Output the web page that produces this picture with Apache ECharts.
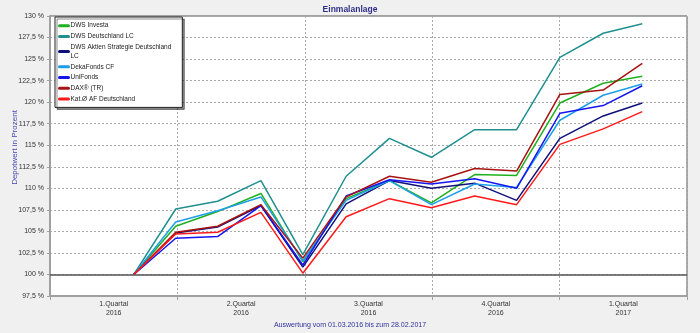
<!DOCTYPE html>
<html>
<head>
<meta charset="utf-8">
<script src="https://cdn.jsdelivr.net/npm/echarts@6/dist/echarts.min.js"></script>
<style>
html,body{margin:0;padding:0;background:#f0f0f0;}
#chart{width:700px;height:333px;}
</style>
</head>
<body>
<div id="chart"></div>
<script>
const quarterLabels = ['1.Quartal\n2016', '2.Quartal\n2016', '3.Quartal\n2016', '4.Quartal\n2016', '1.Quartal\n2017'];
const dates = ['2016-03-01','2016-03-31','2016-04-30','2016-05-31','2016-06-30','2016-07-31','2016-08-31','2016-09-30','2016-10-31','2016-11-30','2016-12-31','2017-01-31','2017-02-28'];
const seriesNames = ['DWS Investa','DWS Deutschland LC','DWS Aktien Strategie Deutschland LC','DekaFonds CF','UniFonds','DAX® (TR)','Kat.Ø AF Deutschland'];
const dwsInvesta      = [100, 105.6, 107.3, 109.4, 101.5, 108.8, 110.9, 108.3, 111.6, 111.5, 119.9, 122.2, 123.0];
const dwsDeutschland  = [100, 107.6, 108.5, 110.9, 102.3, 111.4, 115.8, 113.6, 116.8, 116.8, 125.2, 128.0, 129.1];
const dwsAktienStrat  = [100, 104.8, 105.5, 108.0, 100.85, 108.2, 110.9, 110.0, 110.6, 108.6, 115.8, 118.4, 119.9];
const dekaFonds       = [100, 106.1, 107.4, 109.0, 101.6, 108.6, 110.9, 108.1, 110.5, 110.1, 117.9, 120.8, 122.1];
const uniFonds        = [100, 104.2, 104.4, 108.0, 101.1, 109.1, 111.0, 110.5, 111.1, 110.0, 118.7, 119.6, 121.9];
const daxTR           = [100, 104.9, 105.6, 108.1, 101.9, 109.0, 111.4, 110.7, 112.3, 112.0, 120.9, 121.4, 124.5];
const katAF           = [100, 104.7, 104.9, 107.2, 100.15, 106.7, 108.8, 107.75, 109.1, 108.1, 115.1, 116.9, 118.9];
const seriesValues = [dwsInvesta, dwsDeutschland, dwsAktienStrat, dekaFonds, uniFonds, daxTR, katAF];
const seriesColors = ['#1fb01f', '#1f8f8f', '#10107a', '#1e9ee8', '#1515f0', '#a81212', '#ff1a1a'];
const baseLine = 100;
const yMin = 97.5, yMax = 130, yStep = 2.5;

const FONT = 'Liberation Sans, Arial, sans-serif';
const chart = echarts.init(document.getElementById('chart'), null, {renderer: 'canvas'});

const series = seriesNames.map((name, i) => ({
  name: name,
  type: 'line',
  xAxisIndex: 1,
  symbol: 'none',
  showSymbol: false,
  z: 3,
  lineStyle: {color: seriesColors[i], width: 1.5},
  itemStyle: {color: seriesColors[i]},
  data: dates.map((d, k) => [d, seriesValues[i][k]])
}));
series[0].markLine = {
  silent: true,
  symbol: 'none',
  label: {show: false},
  lineStyle: {color: '#555', type: 'solid', width: 1.5},
  data: [{yAxis: baseLine}]
};

const legendData = seriesNames.map(n => {
  if (n.length > 30) {
    return {name: n, textStyle: {lineHeight: 9.5, padding: [4.75, 0, -4.75, -3]}};
  }
  return {name: n};
});

chart.setOption({
  animation: false,
  backgroundColor: '#f0f0f0',
  title: {
    text: 'Einmalanlage',
    left: 'center',
    top: 0,
    textStyle: {fontFamily: FONT, fontSize: 8.5, fontWeight: 'bold', color: '#2e2e8a'}
  },
  graphic: [{
    type: 'text',
    left: 'center',
    top: 322,
    style: {text: 'Auswertung vom 01.03.2016 bis zum 28.02.2017', fontFamily: FONT, fontSize: 7, fill: '#3030a0'}
  }],
  legend: {
    orient: 'vertical',
    left: 55,
    top: 17,
    itemWidth: 9,
    itemHeight: 10,
    itemGap: 0.7,
    padding: [3.7, 11, 3.5, 3],
    backgroundColor: '#ffffff',
    borderColor: '#222',
    borderWidth: 1,
    shadowColor: 'rgba(0,0,0,0.45)',
    shadowOffsetX: 2,
    shadowOffsetY: 2,
    shadowBlur: 0,
    selectedMode: false,
    itemStyle: {opacity: 0},
    lineStyle: {width: 3, cap: 'round', opacity: 1},
    textStyle: {fontFamily: FONT, fontSize: 6.5, color: '#222', lineHeight: 10, padding: [0, 0, 0, -3]},
    formatter: function (name) { return name.length > 30 ? name.replace(/ LC$/, '\nLC') : name; },
    data: legendData
  },
  grid: {
    left: 50, right: 13, top: 16, bottom: 37,
    outerBoundsMode: 'none',
    containLabel: false,
    show: true, backgroundColor: '#ffffff', borderColor: '#555', borderWidth: 1
  },
  xAxis: [{
    type: 'category',
    data: quarterLabels,
    boundaryGap: true,
    axisLine: {show: true, lineStyle: {color: '#a0a0a0', width: 2}},
    axisTick: {show: true, length: 4, lineStyle: {color: '#a0a0a0'}},
    splitLine: {show: true, lineStyle: {color: '#aaaaaa', type: [2, 2], width: 1}},
    axisLabel: {fontFamily: FONT, fontSize: 7, color: '#333', lineHeight: 9.5, margin: 3}
  }, {
    type: 'time',
    min: '2016-01-01',
    max: '2017-04-01',
    show: false,
    splitLine: {show: false}
  }],
  yAxis: {
    type: 'value',
    min: yMin, max: yMax, interval: yStep,
    name: 'Depotwert in Prozent',
    nameLocation: 'middle',
    nameGap: 31,
    nameMoveOverlap: false,
    nameTextStyle: {fontFamily: FONT, fontSize: 8, color: '#4a4ab0', padding: [0, 0, 0, 17]},
    axisLine: {show: true, lineStyle: {color: '#a0a0a0', width: 2}},
    axisTick: {show: true, length: 3, lineStyle: {color: '#a0a0a0'}},
    splitLine: {show: true, lineStyle: {color: '#aaaaaa', type: [2, 2], width: 1}},
    axisLabel: {
      fontFamily: FONT, fontSize: 7, color: '#333', margin: 6,
      formatter: v => String(Number(v.toFixed(1))).replace('.', ',') + ' %'
    }
  },
  series: series
});
</script>
</body>
</html>
